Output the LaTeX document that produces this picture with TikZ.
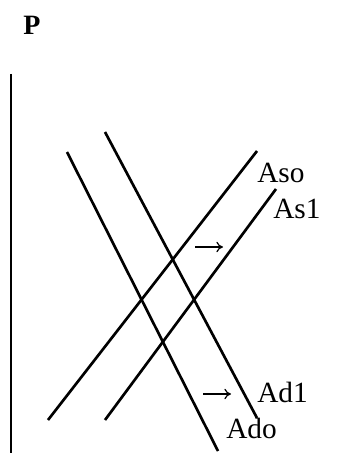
\documentclass[tikz,border=0pt]{standalone}
\usepackage{fontspec}
\setmainfont{Liberation Serif}
\usetikzlibrary{arrows.meta}
\tikzset{
  curve/.style={line width=2pt},
  lbl/.style={anchor=base west,inner sep=0pt,font=\fontsize{22}{24}\selectfont},
  shiftarrow/.style={line width=0.9pt,-{To[length=5pt,width=8pt]}}
}

\begin{document}
\begin{tikzpicture}[x=0.75pt,y=-0.75pt]
\path[use as bounding box] (0,0) rectangle (362,453);
% axis
\node[lbl,font=\fontsize{21}{23}\selectfont\bfseries] (p) at (23,35) {P};
\coordinate (axtop) at (11,74);
\coordinate (axbot) at (11,453);
\draw[line width=1.4pt] (axtop) -- (axbot);
% demand curves
\coordinate (ado1) at (67,152);
\coordinate (ado2) at (218,451);
\coordinate (adl1) at (105,132);
\coordinate (adl2) at (257,418);
\draw[curve] (ado1) -- (ado2);
\draw[curve] (adl1) -- (adl2);
% supply curves
\coordinate (aso1) at (48,420);
\coordinate (aso2) at (257,151);
\coordinate (asl1) at (105,420);
\coordinate (asl2) at (276,189);
\draw[curve] (aso1) -- (aso2);
\draw[curve] (asl1) -- (asl2);
% labels
\node[lbl] (aso) at (257,182) {Aso};
\node[lbl] (asl) at (273,218) {As1};
\node[lbl] (adl) at (257,402) {Ad1};
\node[lbl] (ado) at (226,438) {Ado};
% shifts
\coordinate (sup1) at (195,247);
\coordinate (sup2) at (223,247);
\coordinate (dem1) at (203,394);
\coordinate (dem2) at (231,394);
\draw[shiftarrow] (sup1) -- (sup2);
\draw[shiftarrow] (dem1) -- (dem2);
\end{tikzpicture}
\end{document}
